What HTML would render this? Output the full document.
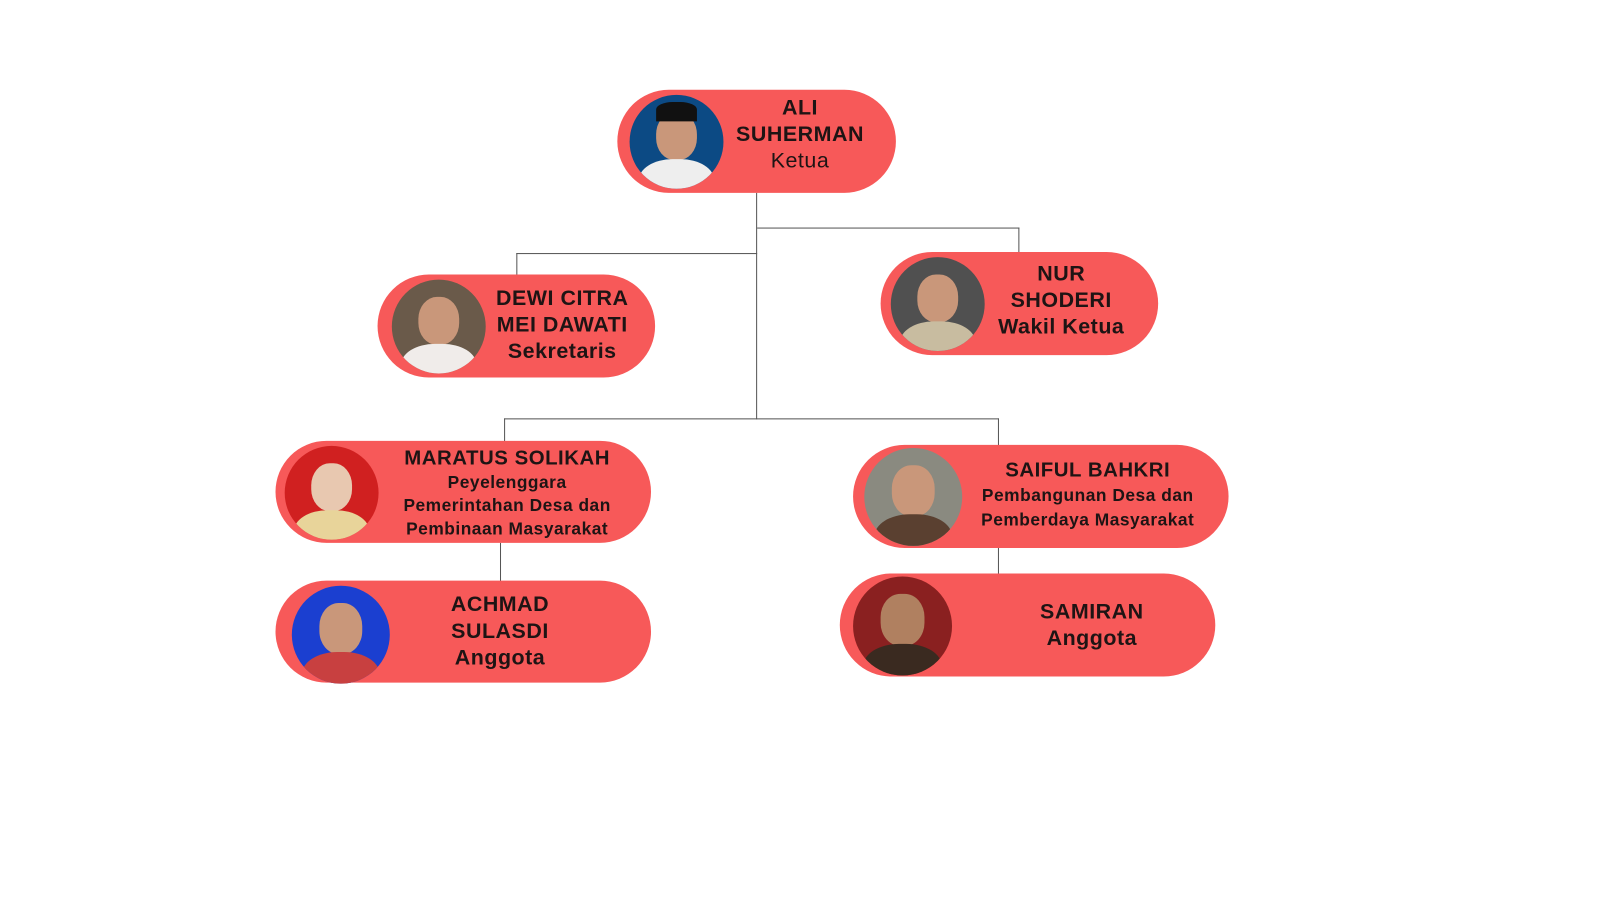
<!DOCTYPE html>
<html><head><style>
body{margin:0;width:1600px;height:900px;background:#fff;position:relative;overflow:hidden;font-family:"Liberation Sans",sans-serif}
#w{position:absolute;left:0;top:0;width:1568px;height:882px;transform:scale(1.0204);transform-origin:0 0}
.n{position:absolute;background:#f75959;border-radius:52px;box-sizing:border-box}
.p{position:absolute;border-radius:50%;overflow:hidden}
.p .h{position:absolute;left:28%;top:18%;width:44%;height:52%;background:#c9977a;border-radius:45%}
.p .b{position:absolute;left:10%;top:68%;width:80%;height:50%;border-radius:45% 45% 0 0}
.t{position:absolute;text-align:center;color:#1e1414;font-weight:bold;letter-spacing:0.5px;transform:translateX(-50%);white-space:nowrap}
.l{position:absolute;background:#555}
</style></head><body><div id="w">
<div class="l" style="left:741px;top:189px;width:1px;height:222px"></div>
<div class="l" style="left:742px;top:223px;width:257px;height:1px"></div>
<div class="l" style="left:998px;top:223px;width:1px;height:25px"></div>
<div class="l" style="left:506px;top:248px;width:236px;height:1px"></div>
<div class="l" style="left:506px;top:248px;width:1px;height:22px"></div>
<div class="l" style="left:494px;top:410px;width:485px;height:1px"></div>
<div class="l" style="left:494px;top:410px;width:1px;height:23px"></div>
<div class="l" style="left:978px;top:410px;width:1px;height:27px"></div>
<div class="l" style="left:490px;top:532px;width:1px;height:38px"></div>
<div class="l" style="left:978px;top:536px;width:1px;height:27px"></div>

<div class="n" style="left:605px;top:88px;width:273px;height:101px"></div>
<div class="p" style="left:617px;top:93px;width:92px;height:92px;background:#0c4a84"><div class="h"></div><div class="b" style="background:#eee"></div><div style="position:absolute;left:28%;top:8%;width:44%;height:20%;background:#111;border-radius:40% 40% 0 0"></div></div>
<div class="t" style="left:784px;top:93px;font-size:21px;line-height:26px">ALI<br>SUHERMAN<br><span style="font-weight:normal">Ketua</span></div>

<div class="n" style="left:370px;top:269px;width:272px;height:101px"></div>
<div class="p" style="left:384px;top:274px;width:92px;height:92px;background:#6a5a4a"><div class="h"></div><div class="b" style="background:#f0ecea"></div></div>
<div class="t" style="left:551px;top:280px;font-size:21px;line-height:26px">DEWI CITRA<br>MEI DAWATI<br>Sekretaris</div>

<div class="n" style="left:863px;top:247px;width:272px;height:101px"></div>
<div class="p" style="left:873px;top:252px;width:92px;height:92px;background:#505050"><div class="h"></div><div class="b" style="background:#c8bca0"></div></div>
<div class="t" style="left:1040px;top:256px;font-size:21px;line-height:26px">NUR<br>SHODERI<br>Wakil Ketua</div>

<div class="n" style="left:270px;top:432px;width:368px;height:100px"></div>
<div class="p" style="left:279px;top:437px;width:92px;height:92px;background:#d02020"><div class="h" style="background:#e8c8b0"></div><div class="b" style="background:#e8d49a"></div></div>
<div class="t" style="left:497px;top:438px;font-size:20px;line-height:23px">MARATUS SOLIKAH<br><span style="font-size:17px;line-height:22px">Peyelenggara<br>Pemerintahan Desa dan<br>Pembinaan Masyarakat</span></div>

<div class="n" style="left:836px;top:436px;width:368px;height:101px"></div>
<div class="p" style="left:847px;top:439px;width:96px;height:96px;background:#8a8a80"><div class="h"></div><div class="b" style="background:#5a4030"></div></div>
<div class="t" style="left:1066px;top:449px;font-size:20px;line-height:24px">SAIFUL BAHKRI<br><span style="font-size:17px;line-height:22px">Pembangunan Desa dan<br>Pemberdaya Masyarakat</span></div>

<div class="n" style="left:270px;top:569px;width:368px;height:100px"></div>
<div class="p" style="left:286px;top:574px;width:96px;height:96px;background:#1b3fd0"><div class="h"></div><div class="b" style="background:#c84040"></div></div>
<div class="t" style="left:490px;top:580px;font-size:21px;line-height:26px">ACHMAD<br>SULASDI<br>Anggota</div>

<div class="n" style="left:823px;top:562px;width:368px;height:101px"></div>
<div class="p" style="left:836px;top:565px;width:97px;height:97px;background:#8a2020"><div class="h" style="background:#b08060"></div><div class="b" style="background:#3a2a20"></div></div>
<div class="t" style="left:1070px;top:587px;font-size:21px;line-height:26px">SAMIRAN<br>Anggota</div>
</div></body></html>
